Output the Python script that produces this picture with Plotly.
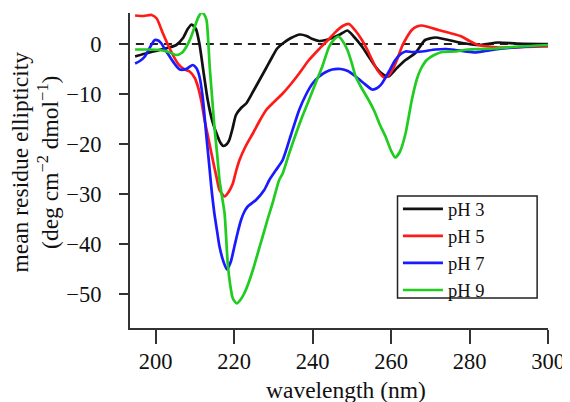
import plotly.graph_objects as go

# CD spectra
wl_ph3 = [194.8, 197, 199.4, 203, 205.3, 207, 208.2, 209.2, 210.3, 211.2, 212.3, 213.3, 214.5, 215.5,
          216.5, 217.3, 218.2, 218.8, 219.6, 220.5, 221.8, 223.1, 224.8, 226.5, 228.2, 229.8, 231,
          232.4, 234.5, 236.8, 238.5, 240, 241.7, 243.4, 245, 247, 248.9, 250.5, 252.6, 254.3, 256,
          257.7, 259.3, 261.5, 263.7, 266.2, 268.7, 271.3, 273.5, 276.3, 279, 282.2, 287.3, 292, 300]
val_ph3 = [-2.5, -2.0, -1.5, -0.8, -0.2, 1.2, 3.0, 3.9, 3.0, 0.0, -6.0, -11.2, -15.5, -17.8,
           -19.7, -20.4, -20.0, -19.2, -17.0, -14.2, -12.8, -11.9, -9.6, -7.2, -4.8, -2.5, -0.9,
           0.1, 1.2, 1.9, 1.6, 1.0, 0.6, 0.8, 1.2, 1.9, 2.7, 1.5, -0.5, -2.5, -4.5,
           -5.9, -6.5, -4.8, -3.2, -1.8, 0.8, 1.3, 1.0, 0.5, 0.1, -0.2, 0.3, 0.1, 0.0]

wl_ph5 = [194.8, 197, 199, 200.3, 201.9, 203.6, 205.7, 207.2, 208.7, 210, 210.8, 211.7, 212.5, 213.5,
          214.6, 215.5, 216.3, 217.6, 218.7, 219.7, 220.5, 221.4, 223, 224.8, 226.5, 228.2, 230.3,
          232.4, 234.5, 236.6, 239, 241.7, 244.2, 246, 247.7, 249.3, 250.8, 252.6, 254, 255.2, 256.5,
          258.3, 259.5, 260.6, 261.6, 262.8, 264, 265.3, 266.6, 267.9, 270, 272.1, 275, 278, 280,
          282.2, 285, 288.2, 294, 300]
val_ph5 = [5.7, 5.6, 5.8, 5.1, 2.1, -0.9, -3.9, -5.0, -5.5, -6.8, -8.5, -11.5, -15.2, -19.0,
           -23.2, -26.5, -29.2, -30.5, -29.5, -27.9, -25.5, -23.2, -20.4, -17.9, -15.4, -13.2, -11.5,
           -9.9, -8.0, -5.9, -3.3, -1.0, 1.0, 2.5, 3.6, 4.0, 2.8, 0.8, -1.2, -3.2, -5.2,
           -6.7, -6.2, -4.8, -3.0, -0.5, 1.3, 2.8, 3.5, 3.7, 3.3, 2.8, 2.2, 1.5, 0.6,
           -0.2, -0.5, -0.7, -0.6, -0.5]

wl_ph7 = [194.8, 196, 197.3, 198.5, 199.8, 200.7, 201.5, 202.5, 203.6, 205, 206.2, 207.8, 209.5, 210.4,
          211.2, 212, 212.9, 213.6, 214.2, 215, 215.7, 216.3, 217.3, 218.2, 219.2, 220.1, 221,
          221.8, 222.6, 223.5, 225.6, 227.7, 229, 230.7, 232.4, 234.5, 236.6, 238.3, 240, 241.7,
          243.4, 245, 247.2, 249, 251, 253, 255.2, 256.5, 257.7, 259.4, 261.1, 262.5, 263.7, 265.5,
          267.9, 271.3, 274, 276.3, 279, 281.4, 284, 286.5, 290, 295, 300]
val_ph7 = [-3.9, -3.4, -2.5, -0.8, 0.8, 0.7, 0.1, -1.2, -2.5, -4.1, -5.1, -5.0, -4.2, -4.8,
           -6.5, -10.5, -17.9, -23.5, -28.5, -33.9, -37.5, -40.5, -43.5, -45.1, -43.5, -40.5, -37.5,
           -35.2, -33.6, -32.5, -31.2, -29.2, -27.2, -25.2, -23.2, -18.2, -13.2, -10.2, -7.9, -6.5,
           -5.6, -5.1, -5.0, -5.4, -6.5, -7.8, -9.1, -8.8, -7.9, -5.6, -3.2, -2.0, -1.5, -1.6,
           -1.5, -1.1, -1.0, -1.2, -1.5, -1.7, -1.4, -1.1, -0.8, -0.5, -0.2]

wl_ph9 = [194.8, 198, 201.1, 203.3, 205.3, 206.8, 207.9, 209, 210, 211, 211.8, 212.4, 213, 213.4,
          213.8, 214.4, 215, 215.7, 216.3, 217, 217.6, 218.4, 219, 219.7, 220.7, 221.6, 222.6,
          223.7, 224.8, 226, 227.3, 228.5, 229.8, 231.5, 232.4, 234, 235.8, 237.4, 239.1, 240.8,
          242.5, 244.2, 245.6, 246.6, 247.5, 248.9, 250, 251, 252.5, 254.3, 255.8, 257.2, 258.6,
          260, 261.1, 262.3, 263.7, 265.3, 266.6, 267.6, 269.1, 271, 273, 276.3, 279.7, 283,
          286.5, 293, 300]
val_ph9 = [-1.1, -1.1, -1.2, -1.6, -2.2, -1.7, -0.5, 1.3, 3.5, 5.5, 6.3, 5.9, 4.8, 1.0,
           -4.5, -10.5, -16.5, -22.0, -27.2, -30.8, -33.9, -43.9, -48.0, -50.9, -51.9, -51.2, -49.9,
           -47.8, -45.2, -42.0, -38.5, -35.2, -31.9, -27.2, -25.9, -22.0, -17.9, -14.5, -11.2, -7.8,
           -4.5, -0.6, 1.0, 1.5, 0.8, -1.2, -3.8, -6.5, -8.8, -11.2, -13.5, -16.2, -18.5,
           -21.3, -22.7, -21.5, -17.9, -11.2, -7.0, -5.0, -3.2, -2.2, -1.6, -1.5, -1.1, -1.0,
           -0.9, -0.5, -0.2]

series = [
    ('pH 3', wl_ph3, val_ph3, '#111111'),
    ('pH 5', wl_ph5, val_ph5, '#ff1a1a'),
    ('pH 7', wl_ph7, val_ph7, '#1a1aff'),
    ('pH 9', wl_ph9, val_ph9, '#1fcc1f'),
]

x_ticks = [200, 220, 240, 260, 280, 300]
y_ticks = [0, -10, -20, -30, -40, -50]
zero_x = [195, 300]
zero_y = [0, 0]

serif = 'Liberation Serif, Times New Roman, serif'

fig = go.Figure()

# 破線のゼロライン
fig.add_trace(go.Scatter(x=zero_x, y=zero_y, mode='lines', showlegend=False,
                         line=dict(color='#222222', width=2, dash='8px,6px'), hoverinfo='skip'))

for name, xs, ys, color in series:
    fig.add_trace(go.Scatter(x=xs, y=ys, mode='lines', name=name,
                             line=dict(color=color, width=2.7, shape='spline', smoothing=0.6)))

axis_common = dict(showline=True, linecolor='#333333', linewidth=2, ticks='outside',
                   tickcolor='#333333', tickwidth=2, showgrid=False, zeroline=False,
                   ticklabeloverflow='allow',
                   tickfont=dict(family=serif, size=22.5, color='#111111'))

# 凡例の枠（自前で描く）
fig.add_shape(type='rect', xref='paper', yref='paper', x0=0.640, x1=0.974, y0=0.095, y1=0.419,
              line=dict(color='#222222', width=1.5), fillcolor='white', layer='below')

# ページ本体の8pxマージン分を差し引いたサイズ
fig.update_layout(
    width=562, height=394,
    margin=dict(l=122, r=20, t=5, b=74),
    plot_bgcolor='rgba(0,0,0,0)', paper_bgcolor='white',
    xaxis=dict(range=[193.5, 300], tickvals=x_ticks, ticklen=14, ticklabelstandoff=-2, **axis_common),
    yaxis=dict(range=[-56.8, 6.2], tickvals=y_ticks, ticklen=9, ticklabelstandoff=13, **axis_common),
    legend=dict(x=0.641, y=0.437, xanchor='left', yanchor='top',
                bgcolor='rgba(0,0,0,0)', borderwidth=0,
                font=dict(family=serif, size=18.5, color='#111111'),
                itemwidth=40, tracegroupgap=0),
    annotations=[
        dict(text='mean residue ellipticity<br>(deg cm<sup>−2</sup> dmol<sup>−1</sup>)',
             textangle=-90, xref='paper', yref='paper', x=-0.226, y=0.527,
             xanchor='center', yanchor='middle', showarrow=False,
             font=dict(family=serif, size=23.5, color='#111111')),
        dict(text='wavelength (nm)', xref='paper', yref='paper', x=0.516, y=-0.197,
             xanchor='center', yanchor='middle', showarrow=False,
             font=dict(family=serif, size=23.5, color='#111111')),
    ],
)

fig.write_html('out.html', config={'displayModeBar': False})
